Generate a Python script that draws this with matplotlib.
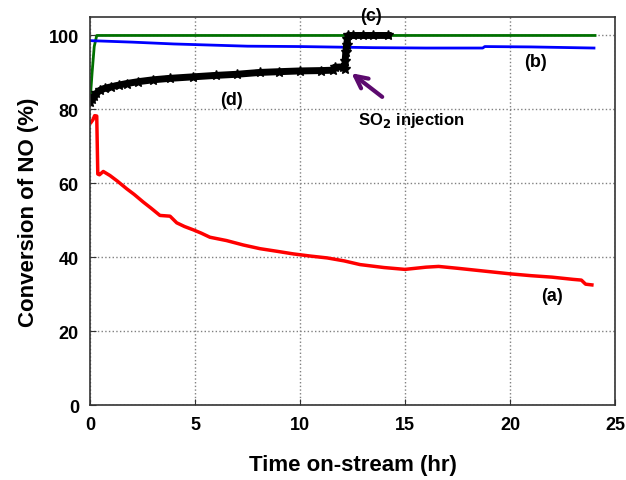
import numpy as np
import matplotlib
matplotlib.use("Agg")
import matplotlib.pyplot as plt

plt.rcParams['font.family'] = ['Liberation Sans', 'DejaVu Sans']
plt.rcParams['font.weight'] = 'bold'

# (a) red
t_a = [0.05, 0.14, 0.22, 0.32, 0.37, 0.45, 0.63, 0.95, 1.3, 1.75, 2.1, 2.54, 2.9, 3.33,
       3.81, 4.13, 4.5, 4.92, 5.3, 5.71, 6.5, 7.3, 8.1, 8.9, 9.67, 10.5, 11.3, 12.1, 12.86,
       14.0, 15.0, 16.0, 16.6, 17.5, 18.5, 19.5, 20.0, 21.0, 22.0, 23.0, 23.4, 23.6, 23.9]
v_a = [76.5, 77.2, 78.3, 78.2, 62.5, 62.3, 63.2, 62.1, 60.6, 58.5, 57.0, 54.9, 53.3, 51.3,
       51.1, 49.3, 48.3, 47.4, 46.5, 45.4, 44.5, 43.3, 42.3, 41.6, 40.9, 40.3, 39.8, 39.0, 38.0,
       37.2, 36.7, 37.3, 37.5, 37.0, 36.4, 35.8, 35.5, 35.0, 34.6, 34.0, 33.8, 32.7, 32.5]

# (b) blue
t_b = [0.0, 0.5, 2.0, 4.0, 7.5, 10.0, 13.5, 16.0, 18.7, 18.8, 21.0, 23.0, 24.0]
v_b = [98.6, 98.5, 98.2, 97.7, 97.1, 97.0, 96.7, 96.6, 96.6, 97.0, 96.9, 96.7, 96.6]

# (c) green
t_c = [0.0, 0.1, 0.2, 0.32, 5.0, 10.0, 15.0, 20.0, 24.05]
v_c = [82.0, 90.0, 97.0, 100.0, 100.0, 100.0, 100.0, 100.0, 100.0]

# (d) black stars
t_d = [0.0, 0.1, 0.2, 0.3, 0.48, 0.7, 1.0, 1.4, 1.75, 2.3, 3.0, 3.8, 4.9, 6.0, 7.0, 8.1,
       9.0, 10.0, 11.0, 11.57, 11.65, 12.06, 12.12, 12.15, 12.18, 12.22, 12.26, 12.3,
       12.5, 13.0, 13.5, 14.2]
v_d = [82.0, 82.8, 83.6, 84.3, 85.2, 85.7, 86.1, 86.6, 87.0, 87.5, 88.0, 88.4, 88.8, 89.2,
       89.5, 90.0, 90.2, 90.4, 90.5, 90.6, 91.4, 91.5, 91.0, 93.0, 95.5, 97.5, 99.0, 100.0,
       100.0, 100.0, 100.0, 100.0]

fig = plt.figure(figsize=(6.26, 4.81), dpi=100)
ax = fig.add_axes([0.1438, 0.1559, 0.8386, 0.8067])

ax.plot(t_a, v_a, color='#ff0000', lw=2.5)
ax.plot(t_c, v_c, color='#007000', lw=2)
ax.plot(t_b, v_b, color='#0000ff', lw=2)
ax.plot(t_d, v_d, color='black', lw=5, marker='*', ms=7)

ax.set_xlim(0, 25)
ax.set_ylim(0, 105)
ax.set_xticks([0, 5, 10, 15, 20, 25])
ax.set_yticks([0, 20, 40, 60, 80, 100])
ax.grid(True, linestyle=':', color='#808080', lw=1)
ax.tick_params(direction='in', length=4, labelsize=13, pad=8, color='#333333')
for s in ax.spines.values():
    s.set_color('#333333')
    s.set_linewidth(1.2)

ax.set_xlabel('Time on-stream (hr)', fontsize=16, fontweight='bold', labelpad=15)
ax.set_ylabel('Conversion of NO (%)', fontsize=16, fontweight='bold', labelpad=7)

ax.text(13.4, 105.5, '(c)', fontsize=13, fontweight='bold', ha='center', va='center')
ax.text(21.2, 93.0, '(b)', fontsize=13, fontweight='bold', ha='center', va='center')
ax.text(6.76, 82.7, '(d)', fontsize=13, fontweight='bold', ha='center', va='center')
ax.text(22.0, 29.5, '(a)', fontsize=13, fontweight='bold', ha='center', va='center')
ax.annotate('SO$_\\mathbf{2}$ injection', xy=(12.45, 89.8), xytext=(15.3, 77.3),
            fontsize=12, fontweight='bold', ha='center', va='center',
            arrowprops=dict(arrowstyle='->', color='#5c0a6e', lw=3,
                            shrinkA=12, shrinkB=0, mutation_scale=22))

fig.savefig('out.png', dpi=100)
